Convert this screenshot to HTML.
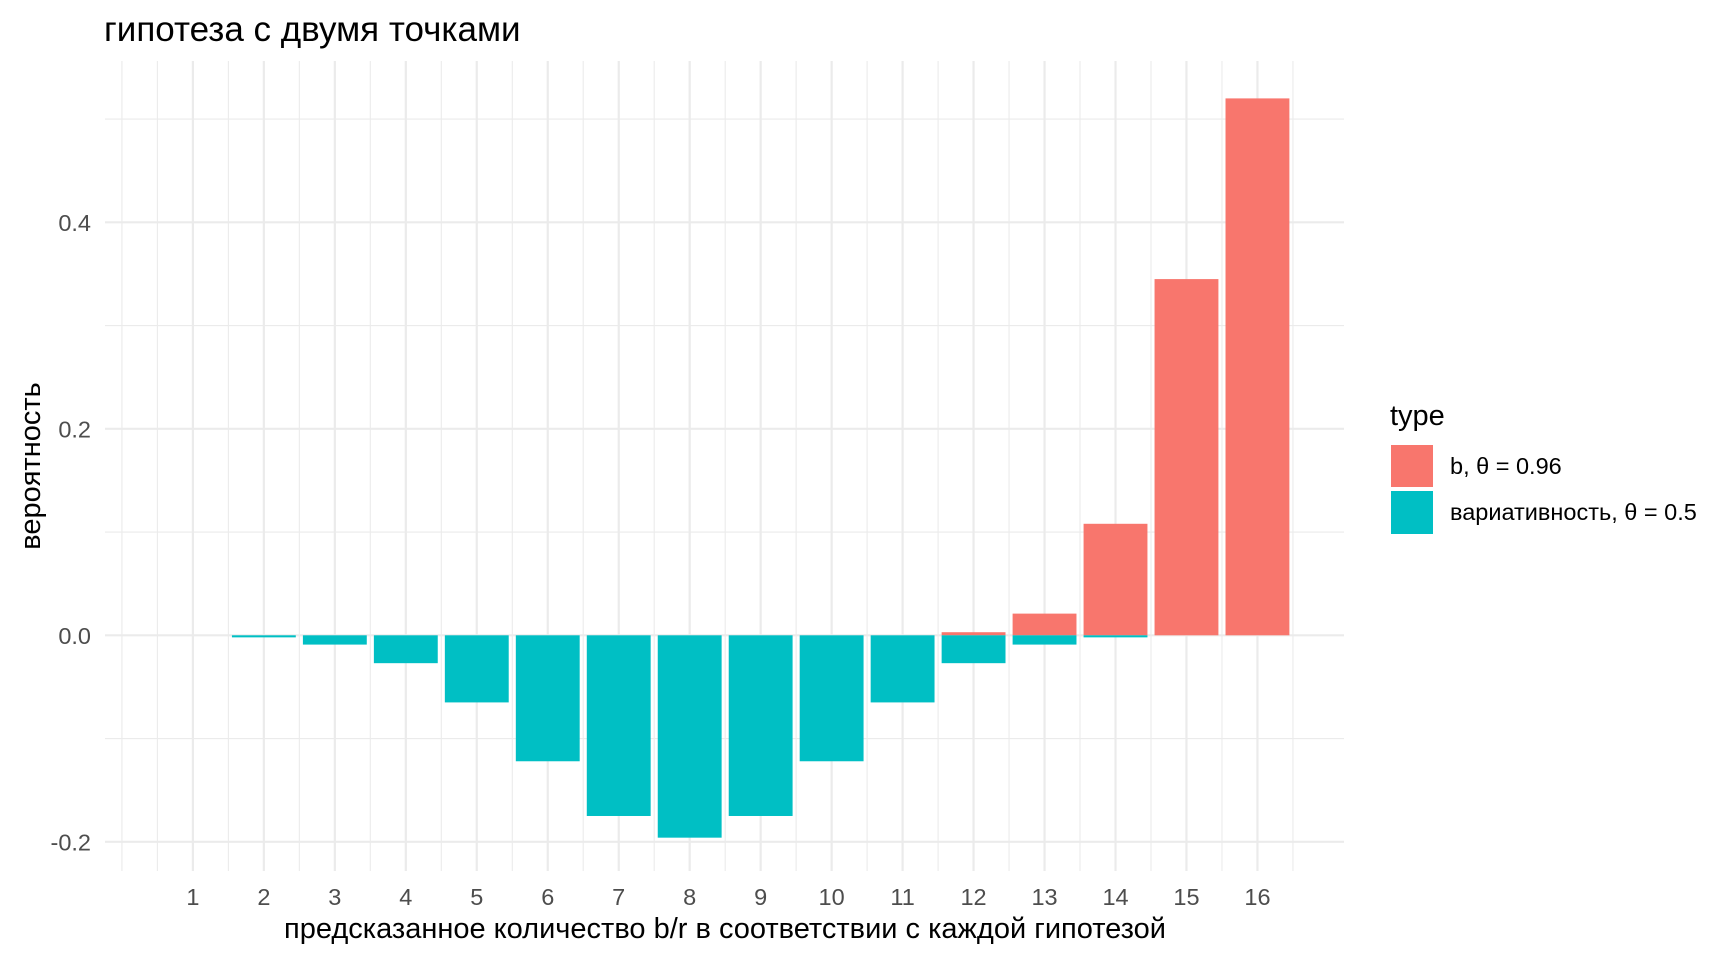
<!DOCTYPE html>
<html><head><meta charset="utf-8"><style>
html,body{margin:0;padding:0;background:#fff;}
svg{display:block;font-family:"Liberation Sans","DejaVu Sans",sans-serif;}
</style></head><body>
<svg id="chart" width="1728" height="960" viewBox="0 0 1728 960">
<text x="104" y="41" font-size="35" fill="#000">гипотеза с двумя точками</text>
<g id="grid"></g>
<g id="bars"></g>
<g id="yticks"></g>
<g id="xticks"></g>
<text x="725" y="938" font-size="29" text-anchor="middle" fill="#000">предсказанное количество b/r в соответствии с каждой гипотезой</text>
<text transform="translate(40,466) rotate(-90)" font-size="29" text-anchor="middle" fill="#000">вероятность</text>
<g>
<text x="1390" y="425" font-size="29" fill="#000">type</text>
<g>
<rect x="1391" y="445" width="42" height="42" fill="#F8766D"></rect>
<text x="1450" y="474" font-size="23.5" fill="#000">b, θ = 0.96</text>
</g>
<g>
<rect x="1391" y="491" width="42" height="43" fill="#00BFC4"></rect>
<text x="1450" y="520" font-size="23.5" fill="#000">вариативность, θ = 0.5</text>
</g>
</g>
</svg>
<script>
const categories = [1,2,3,4,5,6,7,8,9,10,11,12,13,14,15,16];
const seriesB = [0,0,0,0,0,0,0,0,0,0,0,0.003,0.021,0.108,0.345,0.52];
const seriesVar = [0,-0.002,-0.009,-0.027,-0.065,-0.122,-0.175,-0.196,-0.175,-0.122,-0.065,-0.027,-0.009,-0.002,0,0];
const yTicks = [-0.2,0,0.2,0.4];
const yTickLabels = ["-0.2","0.0","0.2","0.4"];
const yMinor = [-0.1,0.1,0.3,0.5];

const NS="http://www.w3.org/2000/svg";
const panel={l:105,r:1344,t:61,b:871};
function xs(v){return 192.9+(v-1)*70.97;}
function ys(v){return 635.3-v*1032.5;}
function mk(tag,attrs,parent){const e=document.createElementNS(NS,tag);for(const k in attrs)e.setAttribute(k,attrs[k]);parent.appendChild(e);return e;}
const grid=document.getElementById('grid');
for(const v of yMinor){const l=mk('line',{x1:panel.l,x2:panel.r,y1:ys(v),y2:ys(v),stroke:'#ebebeb','stroke-width':1.1},grid);

}
for(let h=0;h<=16.5;h+=0.5){const major=Number.isInteger(h)&&h>=1;const l=mk('line',{x1:xs(h),x2:xs(h),y1:panel.t,y2:panel.b,stroke:'#ebebeb','stroke-width':major?2.2:1.1},grid);

}
const yt=document.getElementById('yticks');
yTicks.forEach((v,i)=>{const l=mk('line',{x1:panel.l,x2:panel.r,y1:ys(v),y2:ys(v),stroke:'#ebebeb','stroke-width':2.2},grid);


const t=mk('text',{x:91,y:ys(v)+8.5,'font-size':23.5,'text-anchor':'end',fill:'#4d4d4d'},yt);t.textContent=yTickLabels[i];

});
const xt=document.getElementById('xticks');
categories.forEach(c=>{const t=mk('text',{x:xs(c),y:905,'font-size':23.5,'text-anchor':'middle',fill:'#4d4d4d'},xt);t.textContent=c;

});
const bars=document.getElementById('bars');
const bw=0.9*70.97;
function drawSeries(vals,color,name){vals.forEach((v,i)=>{if(v===0)return;const y0=ys(0),y1=ys(v);const r=mk('rect',{x:xs(categories[i])-bw/2,y:Math.min(y0,y1),width:bw,height:Math.max(Math.abs(y1-y0),1),fill:color},bars);

});}
drawSeries(seriesB,'#F8766D','b');
drawSeries(seriesVar,'#00BFC4','variability');
</script>
</body></html>
